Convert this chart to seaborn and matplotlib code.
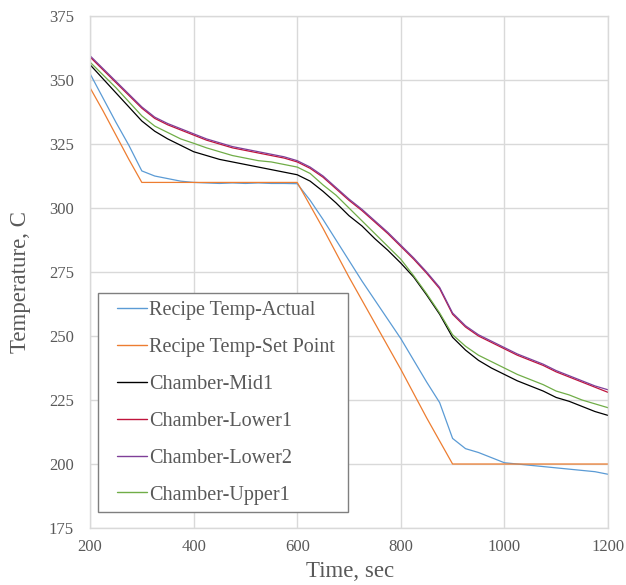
import numpy as np
import pandas as pd
import matplotlib
matplotlib.use("Agg")
import matplotlib.pyplot as plt
from matplotlib.patches import Rectangle
import seaborn as sns

time_s = list(range(200, 1201, 25))

recipe_actual = [352.5, 343, 333.5, 324.5, 314.5, 312.5, 311.5, 310.5, 310, 309.8,
                 309.6, 309.8, 309.6, 309.8, 309.6, 309.6, 309.5, 303, 295.5, 287.5,
                 279.5, 271.5, 264, 256.5, 249, 240.5, 232, 224, 210, 206,
                 204.5, 202.5, 200.5, 200, 199.5, 199, 198.5, 198, 197.5, 197, 196]
recipe_setpoint = [347, 338, 328.5, 319, 310, 310, 310, 310, 310, 310,
                   310, 310, 310, 310, 310, 310, 310, 301, 292, 282.5,
                   273, 264, 255, 246, 237, 227.5, 218, 209, 200, 200,
                   200, 200, 200, 200, 200, 200, 200, 200, 200, 200, 200]
chamber_mid1 = [356, 350.5, 345, 339.5, 334, 330, 327, 324.5, 322, 320.5,
                319, 318, 317, 316, 315, 314, 313, 310.5, 306.5, 302,
                297, 293, 288, 283.5, 278.5, 273, 266, 258.5, 249.5, 244.5,
                240.5, 237.5, 235, 232.5, 230.5, 228.5, 226, 224.5, 222.5, 220.5, 219]
chamber_lower1 = [359, 354, 349, 344, 339, 335, 332.5, 330.5, 328.5, 326.5,
                  325, 323.5, 322.5, 321.5, 320.5, 319.5, 318, 315.5, 312, 307.5,
                  303, 299, 294.5, 290, 285, 280, 274.5, 268.5, 258.5, 253.5,
                  250, 247.5, 245, 242.5, 240.5, 238.5, 236, 234, 232, 230, 228]
chamber_lower2 = [359.5, 354.5, 349.5, 344.5, 339.5, 335.5, 333, 331, 329, 327,
                  325.5, 324, 323, 322, 321, 320, 318.5, 316, 312.5, 308,
                  303.5, 299.5, 295, 290.5, 285.5, 280.5, 275, 269, 259, 254,
                  250.5, 248, 245.5, 243, 241, 239, 236.5, 234.5, 232.5, 230.5, 229]
chamber_upper1 = [357, 352, 347, 341.5, 336, 332, 329.5, 327, 325.3, 323.5,
                  322, 320.5, 319.5, 318.5, 318, 317, 316, 313.5, 309, 305,
                  300, 295, 290, 285, 280, 273.5, 266.5, 259, 250.5, 246,
                  242.5, 240, 237.5, 235, 233, 231, 228.5, 227, 225, 223.5, 222]

series_names = ["Recipe Temp-Actual", "Recipe Temp-Set Point", "Chamber-Mid1",
                "Chamber-Lower1", "Chamber-Lower2", "Chamber-Upper1"]
series_values = [recipe_actual, recipe_setpoint, chamber_mid1,
                 chamber_lower1, chamber_lower2, chamber_upper1]
colors = ["#5B9BD5", "#ED7D31", "#000000", "#C0143C", "#7F3F98", "#70AD47"]

frames = []
for name, vals in zip(series_names, series_values):
    frames.append(pd.DataFrame({"Time": time_s, "Temp": vals, "Series": name}))
df = pd.concat(frames, ignore_index=True)

sns.set_style("white")
plt.rcParams["font.family"] = ["Liberation Serif", "DejaVu Serif"]

fig = plt.figure(figsize=(6.26, 5.85), dpi=100)
ax = fig.add_axes([0.1438, 0.0974, 0.8274, 0.8752])

sns.lineplot(data=df, x="Time", y="Temp", hue="Series", hue_order=series_names,
             palette=dict(zip(series_names, colors)), linewidth=0.9, ax=ax,
             estimator=None, sort=False)

ax.set_xlim(200, 1200)
ax.set_ylim(175, 375)
ax.set_xticks(range(200, 1201, 200))
ax.set_yticks(range(175, 376, 25))
ax.grid(True, color="#D9D9D9", linewidth=1)
ax.set_axisbelow(True)
for sp in ax.spines.values():
    sp.set_color("#D9D9D9")
    sp.set_linewidth(1)
ax.tick_params(length=0, labelsize=12, colors="#595959")
ax.tick_params(axis="y", pad=11.5)
ax.tick_params(axis="x", pad=8)
ax.set_xlabel("Time, sec", fontsize=16.5, color="#595959")
ax.set_ylabel("Temperature, C", fontsize=16.5, color="#595959")
ax.xaxis.label.set_verticalalignment("center")
ax.xaxis.set_label_coords(0.502, -0.084)
ax.yaxis.label.set_verticalalignment("center")
ax.yaxis.label.set_horizontalalignment("center")
ax.yaxis.set_label_coords(-0.135, 0.48)

# legend frame drawn separately so the padding matches
frame = Rectangle((0.157, 0.1243), 0.3984, 0.3754, transform=fig.transFigure,
                  facecolor="white", edgecolor="#7F7F7F", linewidth=1,
                  zorder=4, clip_on=False)
ax.add_patch(frame)

handles, labels = ax.get_legend_handles_labels()
leg = ax.legend(handles, labels, loc="lower left", bbox_to_anchor=(0.1864, 0.1376),
                bbox_transform=fig.transFigure, borderaxespad=0, borderpad=0,
                fontsize=14.5, frameon=False,
                handlelength=1.5, handletextpad=0.1, labelspacing=0.88,
                labelcolor="#595959")
leg.set_zorder(5)
for line in leg.get_lines():
    line.set_linewidth(1)

fig.savefig("out.png", dpi=100)
